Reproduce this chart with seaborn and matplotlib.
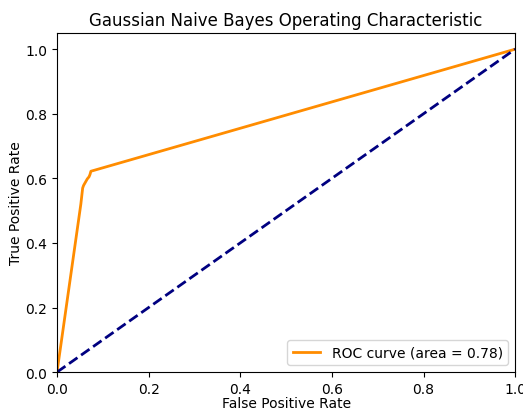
import matplotlib
matplotlib.use("Agg")
import matplotlib.pyplot as plt
import seaborn as sns
import pandas as pd

fpr = [0.0, 0.052, 0.054, 0.056, 0.058, 0.062, 0.066, 0.070, 0.072, 0.074, 1.0]
tpr = [0.0, 0.52, 0.545, 0.57, 0.578, 0.588, 0.598, 0.605, 0.612, 0.622, 1.0]
diag_x = [0.0, 1.0]
diag_y = [0.0, 1.0]
roc_auc = 0.78

plt.rcParams['font.family'] = ['DejaVu Sans']
fig, ax = plt.subplots(figsize=(5.23, 4.10), dpi=100)
df = pd.DataFrame({"fpr": fpr, "tpr": tpr})
sns.lineplot(data=df, x="fpr", y="tpr", sort=False, estimator=None, color="darkorange", lw=2,
             label="ROC curve (area = %0.2f)" % roc_auc, ax=ax)
sns.lineplot(x=diag_x, y=diag_y, color="navy", lw=2, linestyle="--", ax=ax)
ax.set_xlim([0.0, 1.0])
ax.set_ylim([0.0, 1.05])
ax.set_xlabel("False Positive Rate", labelpad=0)
ax.set_ylabel("True Positive Rate", labelpad=2)
ax.set_title("Gaussian Naive Bayes Operating Characteristic")
ax.legend(loc="lower right")
fig.subplots_adjust(left=0.109, right=0.985, top=0.917, bottom=0.090)
fig.savefig("out.png", dpi=100)
